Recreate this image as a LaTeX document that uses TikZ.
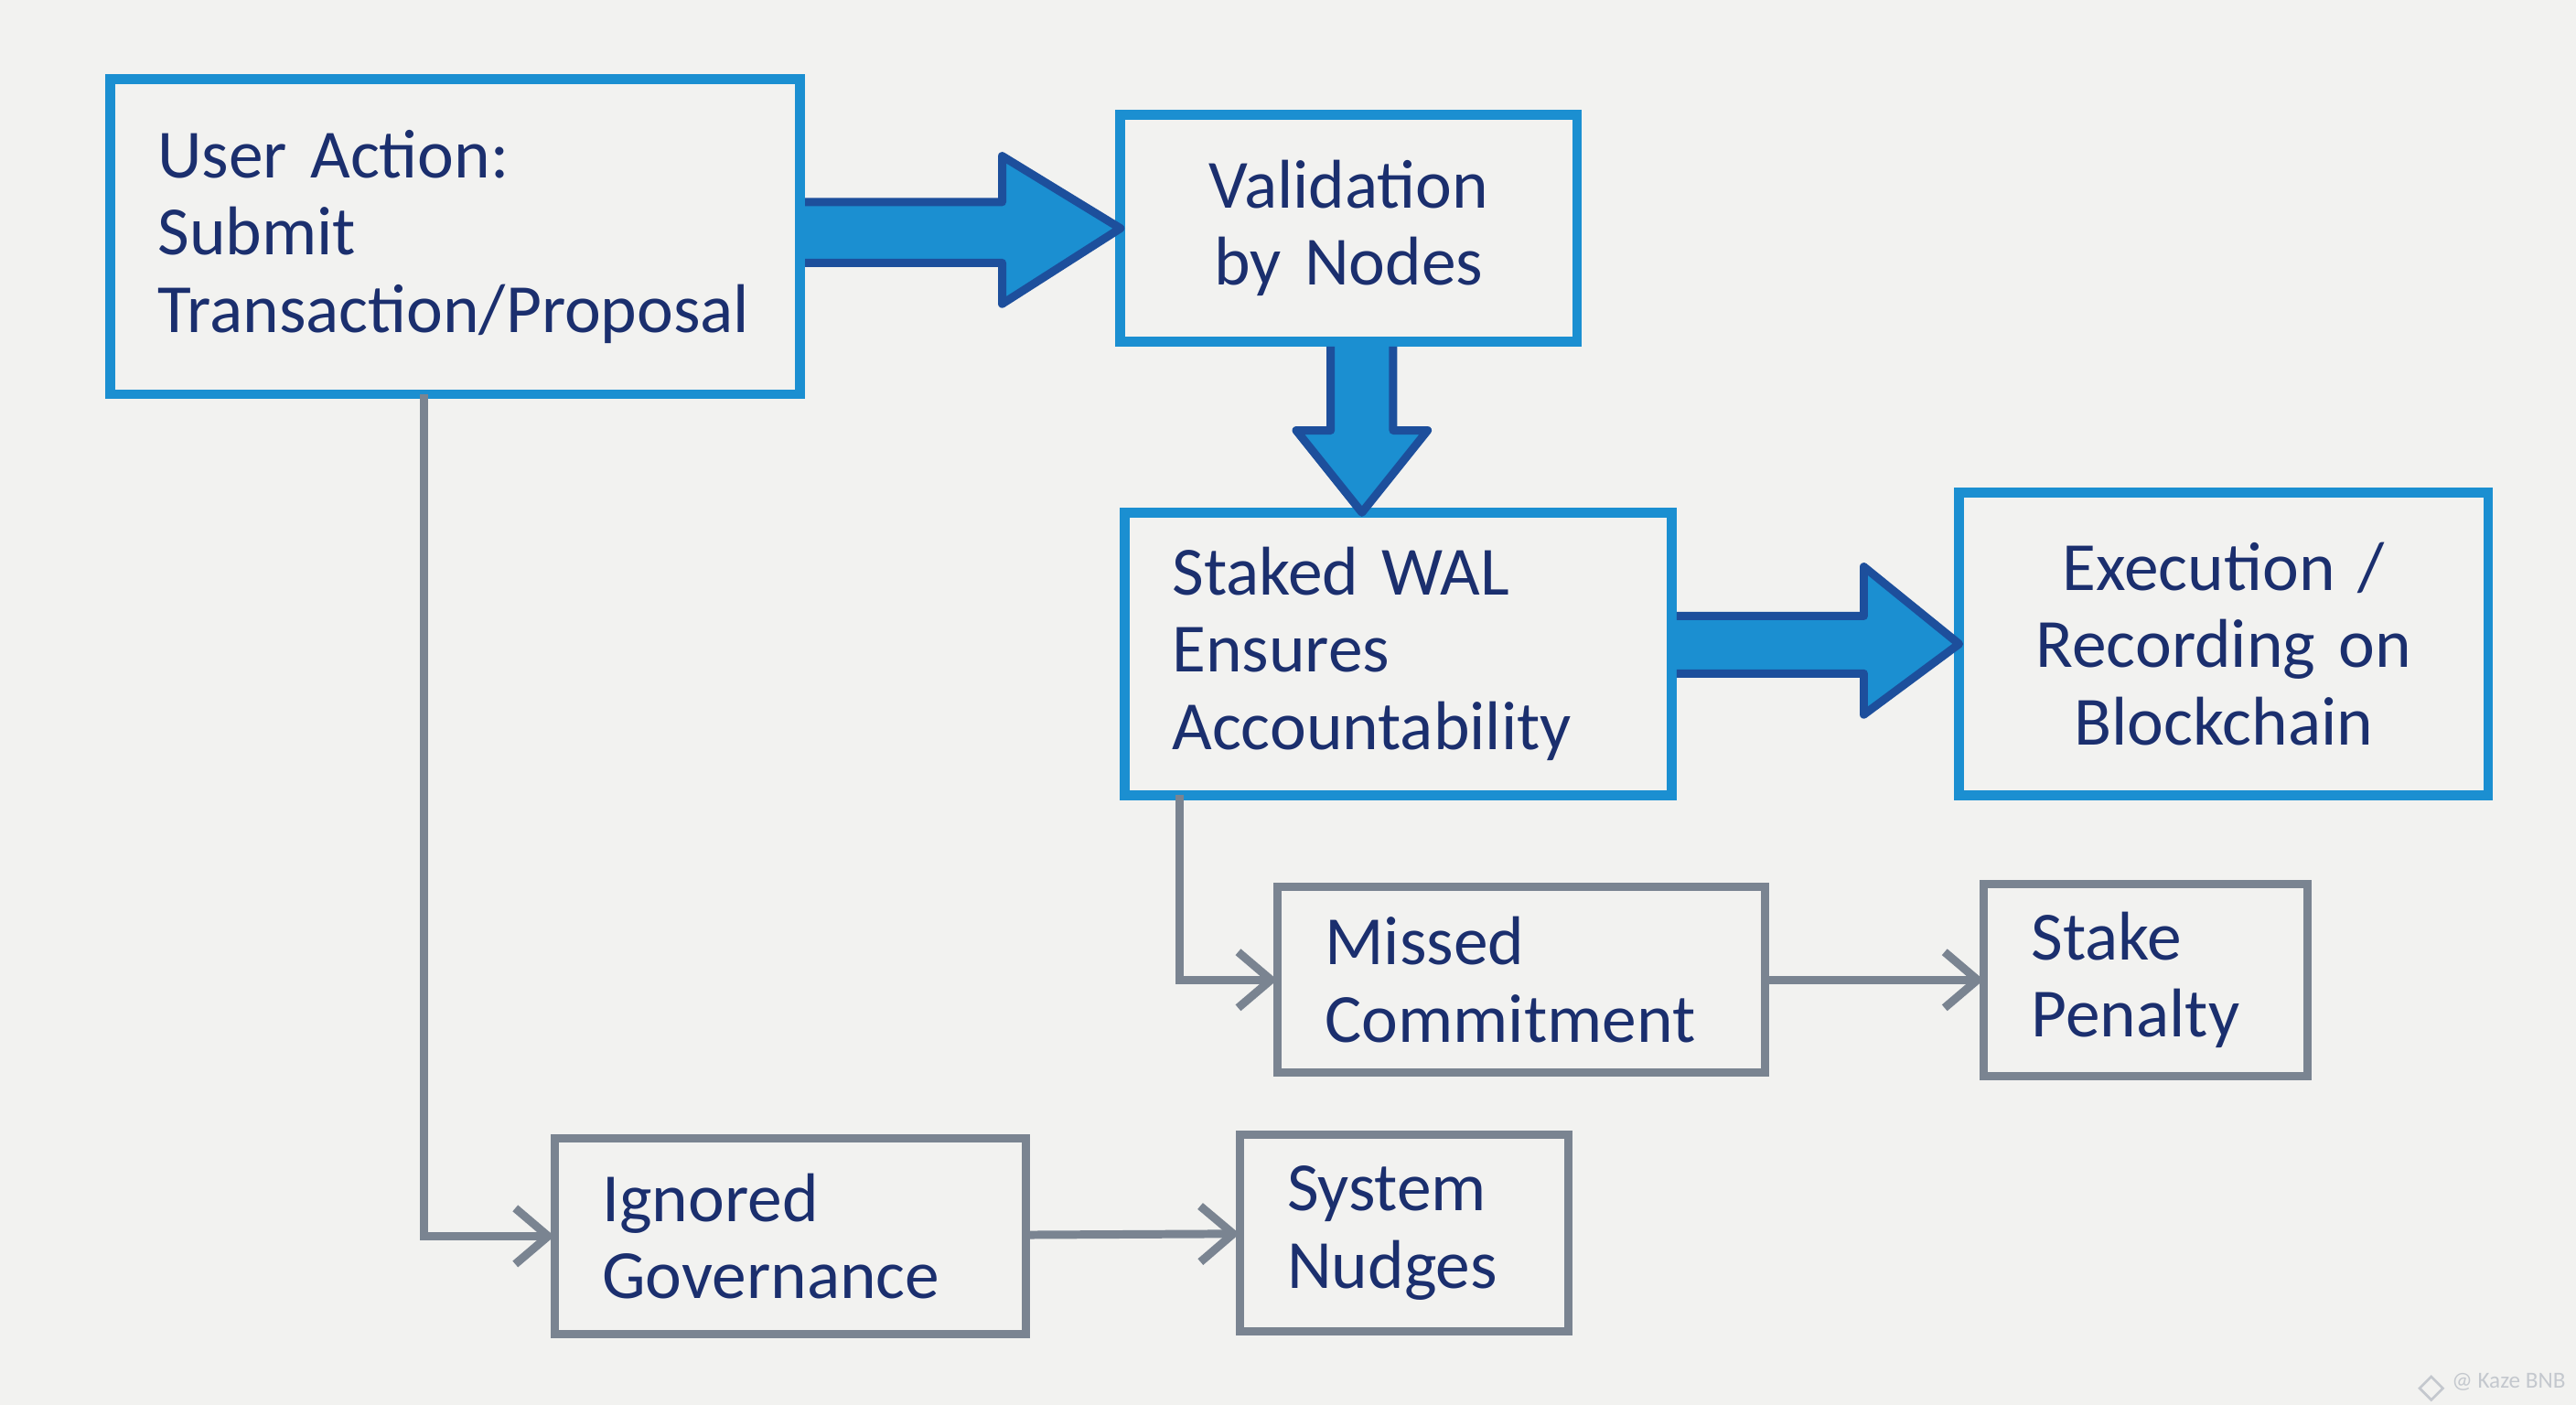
\documentclass[tikz,border=0pt]{standalone}
\usepackage{fontspec}
\setmainfont{Carlito}
\usetikzlibrary{arrows.meta,positioning,calc}
\definecolor{paper}{HTML}{F2F2F0}
\definecolor{ink}{HTML}{1B2F6E}
\definecolor{marker}{HTML}{1B8FD1}
\definecolor{markerdark}{HTML}{1D4F9C}
\definecolor{pencil}{HTML}{7A8491}
\definecolor{faint}{HTML}{C4C8CE}

\begin{document}
\begin{tikzpicture}[x=1pt,y=1pt,
  b/.style={draw=marker,line width=6pt,fill=paper,text=ink,align=left,
    inner xsep=29pt,inner ysep=0pt,outer sep=0pt,
    font=\fontsize{42}{47}\selectfont},
  g/.style={b,draw=pencil,line width=5pt},
  a/.style={draw=pencil,line width=5pt,
    -{Straight Barb[length=20pt,width=34pt]}},
  fat/.style={fill=marker,draw=markerdark,line width=5pt,line join=round}
]
\path[use as bounding box,fill=paper] (0,0) rectangle (1568,855);

\node[b,text width=362pt,minimum height=192pt] (user) at (277,711)
  {User Action:\\Submit\\Transaction/Proposal};
\node[b,right=195pt of user,yshift=5pt,text width=220pt,minimum height=138pt,
  align=center] (valid) {Validation\\by Nodes};
\node[b,below=104pt of valid,xshift=30pt,text width=275pt,minimum height=172pt]
  (staked) {Staked WAL\\Ensures\\Accountability};
\node[b,right=175pt of staked,yshift=6pt,text width=264pt,minimum height=184pt,
  align=center] (exec) {Execution /\\Recording on\\Blockchain};
\node[g,below=56pt of staked,xshift=75pt,text width=239pt,minimum height=113pt]
  (missed) {Missed\\Commitment};
\node[g,right=133pt of missed,text width=139pt,minimum height=117pt]
  (penalty) {Stake\\Penalty};
\node[g,below=453pt of user,xshift=204pt,text width=229pt,minimum height=119pt]
  (ignored) {Ignored\\Governance};
\node[g,right=130pt of ignored,yshift=2pt,text width=142pt,minimum height=120pt]
  (nudges) {System\\Nudges};

% fat marker arrows
\draw[fat] ($(user.east |- valid.west)+(3,16)$) -- ($(valid.west)+(-72,16)$)
  -- ($(valid.west)+(-72,44)$) -- (valid.west) -- ($(valid.west)+(-72,-46)$)
  -- ($(valid.west)+(-72,-21)$) -- ($(user.east |- valid.west)+(3,-21)$);
\draw[fat] ($(valid.south)+(27,-3)$) -- ($(valid.south |- staked.north)+(27,50)$)
  -- ($(valid.south |- staked.north)+(48,50)$)
  -- ($(valid.south |- staked.north)+(8,0)$)
  -- ($(valid.south |- staked.north)+(-32,50)$)
  -- ($(valid.south |- staked.north)+(-11,50)$) -- ($(valid.south)+(-11,-3)$);
\draw[fat] ($(staked.east |- exec.west)+(3,17)$) -- ($(exec.west)+(-58,17)$)
  -- ($(exec.west)+(-58,47)$) -- (exec.west) -- ($(exec.west)+(-58,-43)$)
  -- ($(exec.west)+(-58,-18)$) -- ($(staked.east |- exec.west)+(3,-18)$);

% pencil connectors
\draw[a] ([xshift=-19pt]user.south) |- (ignored.west);
\draw[a] (ignored) -- (nudges);
\draw[a] ([xshift=-133pt]staked.south) |- (missed.west);
\draw[a] (missed) -- (penalty);

\node[text=faint,font=\fontsize{14}{14}\selectfont] (mark) at (1527,14)
  {@ Kaze BNB};
\node[draw=faint,line width=1.5pt,minimum size=10pt,inner sep=0pt,rotate=45,
  left=5pt of mark] (logo) {};
\end{tikzpicture}
\end{document}
